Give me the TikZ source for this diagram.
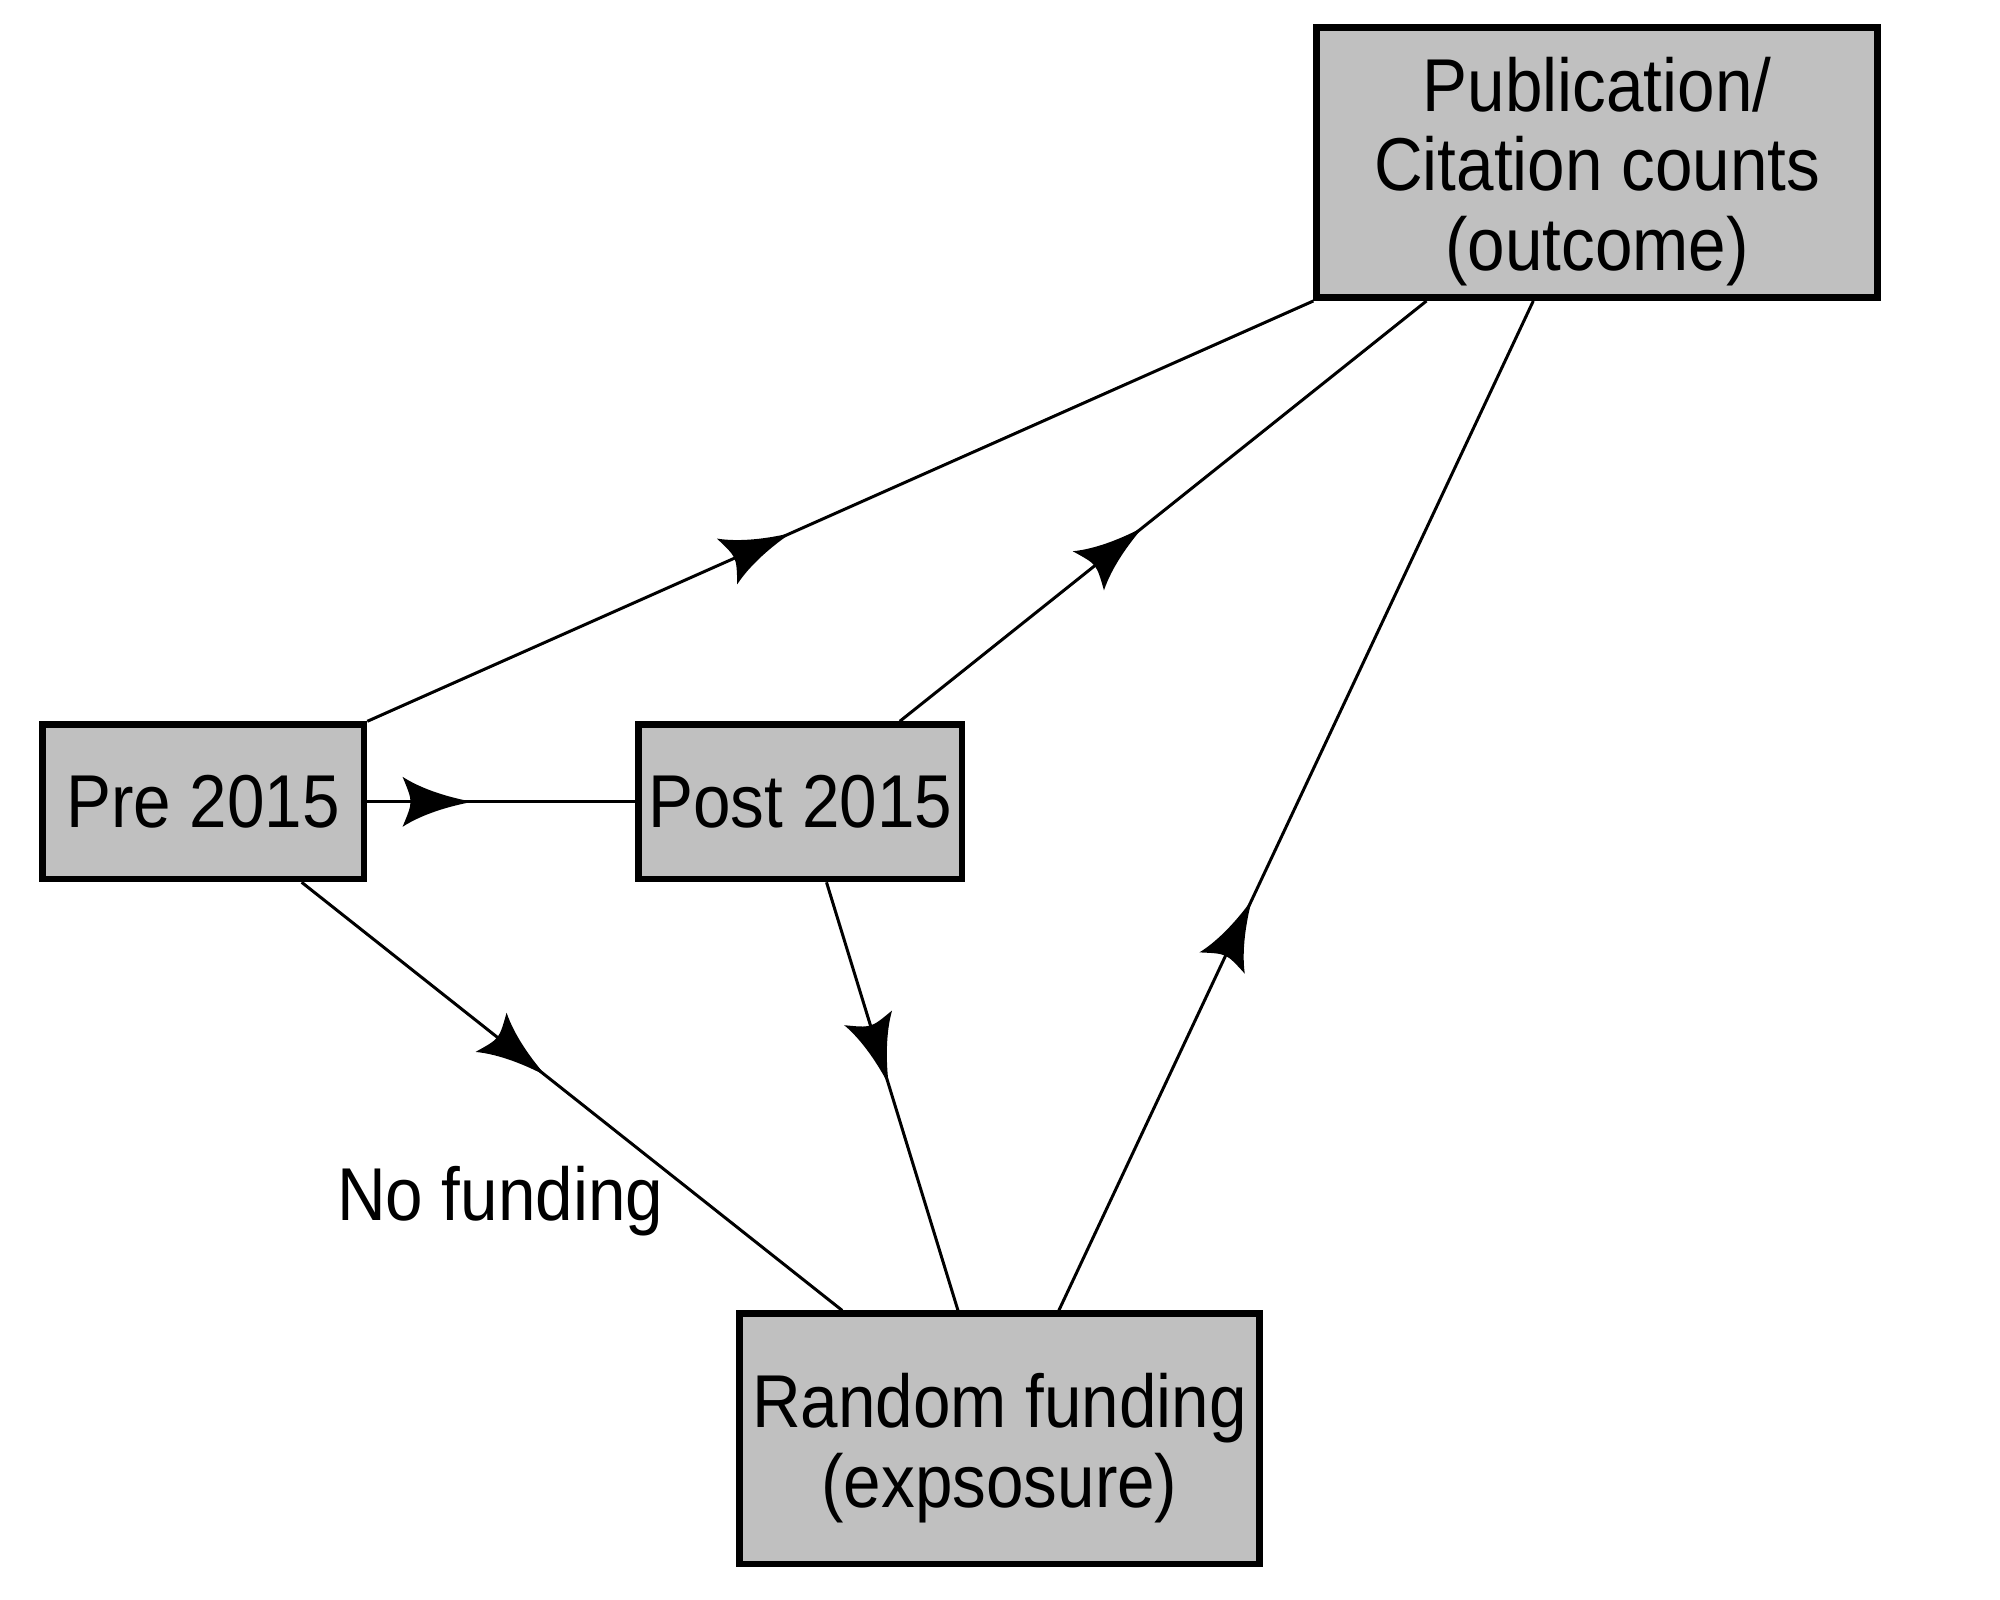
\documentclass[tikz,border=0pt]{standalone}
\usepackage{fontspec}
\setmainfont{Liberation Sans}[FakeStretch=0.9]
\usetikzlibrary{decorations.markings}
\newcommand\curvedhead{%
  \fill[black] (0,0) .. controls (-0.22cm,0.04cm) and (-0.50cm,0.12cm) .. (-0.70cm,0.25cm)
     .. controls (-0.65cm,0.13cm) and (-0.62cm,0.06cm) .. (-0.62cm,0cm)
     .. controls (-0.62cm,-0.06cm) and (-0.65cm,-0.13cm) .. (-0.70cm,-0.25cm)
     .. controls (-0.50cm,-0.12cm) and (-0.22cm,-0.04cm) .. (0,0) -- cycle;}
\definecolor{boxgray}{RGB}{192,192,192}
\tikzset{
  box/.style={draw=black, line width=1.9pt, fill=boxgray, align=center, inner sep=0pt,
    font=\fontsize{21.3}{22.6}\selectfont},
  boxtext/.style={font=\fontsize{21.3}{22.6}\selectfont, align=center, inner sep=0pt, yshift=-0.09cm},
  conn/.style={draw=black, line width=0.85pt},
  midhead/.style={postaction={decorate}, decoration={markings, mark=at position #1 with {\curvedhead}}},
  lab/.style={font=\fontsize{21.3}{22.6}\selectfont, inner sep=0pt}
}
\begin{document}
\begin{tikzpicture}[x=0.01cm,y=-0.01cm]
\useasboundingbox[fill=white] (0,0) rectangle (2000,1600);
\node[box, minimum width=5.605cm, minimum height=2.699cm,
  label={[boxtext]center:{Publication/\\Citation counts\\(outcome)}}] (pub) at (1597.1,162.6) {};
\node[box, minimum width=3.213cm, minimum height=1.542cm] (pre) at (203.2,801.8) {Pre 2015};
\node[box, minimum width=3.233cm, minimum height=1.542cm] (post) at (800.3,801.8) {Post 2015};
\node[box, minimum width=5.20cm, minimum height=2.501cm,
  label={[boxtext]center:{Random funding\\(expsosure)}}] (rand) at (999.5,1438.9) {};
\node[lab, anchor=base] (nofund) at (500.2,1220.9) {No funding};

\draw[conn, midhead=0.448] (pre.north east) -- (pub.south west);
\draw[conn, midhead=0.462] ([xshift=0.994cm]post.north) -- ([xshift=-1.705cm]pub.south);
\draw[conn, midhead=0.407] ([xshift=0.593cm]rand.north) -- ([xshift=-0.638cm]pub.south);
\draw[conn, midhead=0.393] (pre.east) -- (post.west);
\draw[conn, midhead=0.452] ([xshift=0.984cm]pre.south) -- ([xshift=-1.572cm]rand.north);
\draw[conn, midhead=0.473] ([xshift=0.262cm]post.south) -- ([xshift=-0.415cm]rand.north);
\end{tikzpicture}
\end{document}
